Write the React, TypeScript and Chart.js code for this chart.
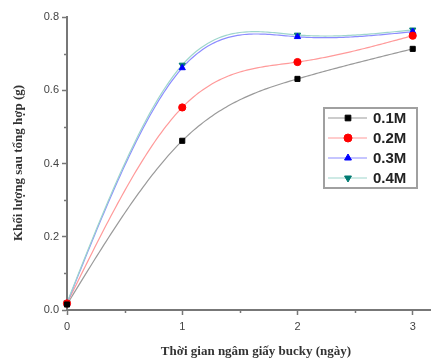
import React, { useEffect, useRef } from 'react';
import { Chart, registerables } from 'chart.js';
import * as helpers from 'chart.js/helpers';

Chart.register(...registerables);

const days = [0, 1, 2, 3];
const seriesNames = ['0.1M', '0.2M', '0.3M', '0.4M'];
const s01 = [0.015, 0.462, 0.631, 0.713];
const s02 = [0.018, 0.553, 0.677, 0.749];
const s03 = [0.018, 0.661, 0.746, 0.760];
const s04 = [0.020, 0.669, 0.751, 0.765];
const seriesValues = [s01, s02, s03, s04];
const yTickValues = [0, 0.1, 0.2, 0.3, 0.4, 0.5, 0.6, 0.7, 0.8];
const xTickValues = [0, 0.5, 1, 1.5, 2, 2.5, 3];
const yTitle = 'Khối lượng sau tổng hợp (g)';
const xTitle = 'Thời gian ngâm giấy bucky (ngày)';

const markerColors = ['#000000', '#ff0000', '#0000ff', '#007a72'];
const lineColors = ['#9a9a9a', '#ff9a9a', '#8c8cff', '#9ed6cc'];
const markerStyles = ['rect', 'circle', 'triangle', 'triangle'];
const markerRotations = [0, 0, 0, 180];
const AXIS = '#777';

function naturalSpline(xs: number[], ys: number[]) {
  const n = xs.length;
  const h: number[] = [];
  for (let i = 0; i < n - 1; i++) h.push(xs[i + 1] - xs[i]);
  const M = new Array(n).fill(0);
  if (n > 2) {
    const a: number[] = [], b: number[] = [], c: number[] = [], d: number[] = [];
    for (let i = 1; i < n - 1; i++) {
      a.push(h[i - 1]);
      b.push(2 * (h[i - 1] + h[i]));
      c.push(h[i]);
      d.push(6 * ((ys[i + 1] - ys[i]) / h[i] - (ys[i] - ys[i - 1]) / h[i - 1]));
    }
    const m = b.length;
    for (let i = 1; i < m; i++) {
      const w = a[i] / b[i - 1];
      b[i] -= w * c[i - 1];
      d[i] -= w * d[i - 1];
    }
    const sol = new Array(m).fill(0);
    sol[m - 1] = d[m - 1] / b[m - 1];
    for (let i = m - 2; i >= 0; i--) sol[i] = (d[i] - c[i] * sol[i + 1]) / b[i];
    for (let i = 0; i < m; i++) M[i + 1] = sol[i];
  }
  return (x: number) => {
    let i = 0;
    while (i < n - 2 && x > xs[i + 1]) i++;
    const hi = h[i];
    const A = (xs[i + 1] - x) / hi;
    const B = (x - xs[i]) / hi;
    return A * ys[i] + B * ys[i + 1] + ((A * A * A - A) * M[i] + (B * B * B - B) * M[i + 1]) * hi * hi / 6;
  };
}

const isMajorY = (v: number) => Math.round(v * 10) % 2 === 0;
const isMajorX = (v: number) => Number.isInteger(v);

const splinePlugin = {
  id: 'splineLines',
  beforeDatasetsDraw(chart: any) {
    const ctx = chart.ctx;
    const xs = chart.scales.x;
    const ys = chart.scales.y;
    chart.data.datasets.forEach((ds: any, di: number) => {
      const px = ds.data.map((p: any) => p.x);
      const py = ds.data.map((p: any) => p.y);
      const f = naturalSpline(px, py);
      ctx.save();
      ctx.strokeStyle = lineColors[di];
      ctx.lineWidth = 1.2;
      ctx.beginPath();
      const x0 = px[0], x1 = px[px.length - 1];
      const steps = 150;
      for (let k = 0; k <= steps; k++) {
        const xv = x0 + (x1 - x0) * k / steps;
        const X = xs.getPixelForValue(xv);
        const Y = ys.getPixelForValue(f(xv));
        if (k === 0) ctx.moveTo(X, Y); else ctx.lineTo(X, Y);
      }
      ctx.stroke();
      ctx.restore();
    });
  },
};

const legendAndTitles = {
  id: 'legendAndTitles',
  afterDraw(chart: any) {
    const ctx = chart.ctx;
    const xs = chart.scales.x;
    const ys = chart.scales.y;
    ctx.save();
    // minor ticks
    ctx.strokeStyle = AXIS;
    ctx.lineWidth = 1.5;
    ctx.beginPath();
    xTickValues.filter((v) => !isMajorX(v)).forEach((v) => {
      const X = Math.round(xs.getPixelForValue(v)) + 0.5;
      ctx.moveTo(X, chart.chartArea.bottom);
      ctx.lineTo(X, chart.chartArea.bottom + 3);
    });
    yTickValues.filter((v) => !isMajorY(v)).forEach((v) => {
      const Y = Math.round(ys.getPixelForValue(v)) + 0.5;
      ctx.moveTo(chart.chartArea.left, Y);
      ctx.lineTo(chart.chartArea.left - 3, Y);
    });
    ctx.stroke();
    // legend box
    const bx = 324, by = 108, bw = 93, bh = 80;
    ctx.strokeStyle = '#a0a0a0';
    ctx.lineWidth = 2;
    ctx.strokeRect(bx, by, bw, bh);
    seriesNames.forEach((name, i) => {
      const y = by + 10 + i * 20;
      ctx.strokeStyle = lineColors[i];
      ctx.lineWidth = 1.2;
      ctx.beginPath();
      ctx.moveTo(bx + 4, y);
      ctx.lineTo(bx + 43, y);
      ctx.stroke();
      ctx.fillStyle = markerColors[i];
      ctx.strokeStyle = markerColors[i];
      ctx.lineWidth = 1;
      helpers.drawPoint(ctx, { pointStyle: markerStyles[i], rotation: markerRotations[i], radius: 4, borderWidth: 1 }, bx + 24, y);
      ctx.fillStyle = '#222';
      ctx.font = 'bold 15px "Liberation Sans", Arial, sans-serif';
      ctx.textBaseline = 'middle';
      ctx.textAlign = 'left';
      ctx.fillText(name, bx + 49, y + 1);
    });
    // titles
    ctx.fillStyle = '#333';
    ctx.font = 'bold 13px "Liberation Serif", "Times New Roman", serif';
    ctx.textAlign = 'center';
    ctx.textBaseline = 'middle';
    ctx.fillText(xTitle, 256, 352);
    ctx.translate(19, 163);
    ctx.rotate(-Math.PI / 2);
    ctx.fillText(yTitle, 0, 0);
    ctx.restore();
  },
};

export default function App() {
  const ref = useRef<HTMLCanvasElement | null>(null);
  useEffect(() => {
    document.body.style.margin = '0';
    if (!ref.current) return;
    const tickFont = { family: '"Liberation Sans", Arial, sans-serif', size: 11 };
    const chart = new Chart(ref.current, {
      type: 'scatter',
      data: {
        datasets: seriesNames.map((name, i) => ({
          label: name,
          data: days.map((d, j) => ({ x: d, y: seriesValues[i][j] })),
          showLine: false,
          pointStyle: markerStyles[i] as any,
          rotation: markerRotations[i],
          pointRadius: 3.6,
          pointBackgroundColor: markerColors[i],
          pointBorderColor: markerColors[i],
          pointBorderWidth: 1,
          clip: false as any,
        })),
      },
      options: {
        responsive: false,
        animation: false,
        layout: { padding: { top: 17, right: 3, left: 0, bottom: 0 } },
        plugins: { legend: { display: false }, tooltip: { enabled: false } },
        scales: {
          x: {
            type: 'linear',
            min: 0,
            max: 3.15,
            afterBuildTicks: (s: any) => { s.ticks = xTickValues.map((v) => ({ value: v })); },
            afterFit: (s: any) => { s.height = 50; },
            ticks: {
              autoSkip: false,
              maxRotation: 0,
              padding: 5,
              color: '#444',
              font: tickFont,
              callback: (v: any) => (isMajorX(v) ? String(v) : ''),
            },
            grid: {
              drawOnChartArea: false, drawTicks: true, tickLength: 5, tickWidth: 1.5,
              tickColor: (c: any) => (c.tick && isMajorX(c.tick.value) ? AXIS : 'rgba(0,0,0,0)'),
            },
            border: { color: AXIS, width: 2 },
          },
          y: {
            type: 'linear',
            min: 0,
            max: 0.8,
            afterBuildTicks: (s: any) => { s.ticks = yTickValues.map((v) => ({ value: v })); },
            afterFit: (s: any) => { s.width = 67; },
            ticks: {
              autoSkip: false,
              padding: 3,
              color: '#444',
              font: tickFont,
              callback: (v: any) => (isMajorY(v) ? Number(v).toFixed(1) : ''),
            },
            grid: {
              drawOnChartArea: false, drawTicks: true, tickLength: 5, tickWidth: 1.5,
              tickColor: (c: any) => (c.tick && isMajorY(c.tick.value) ? AXIS : 'rgba(0,0,0,0)'),
            },
            border: { color: AXIS, width: 2 },
          },
        },
      },
      plugins: [splinePlugin, legendAndTitles],
    } as any);
    return () => chart.destroy();
  }, []);
  return (
    <div style={{ width: 435, height: 360 }}>
      <canvas ref={ref} width={435} height={360} />
    </div>
  );
}
